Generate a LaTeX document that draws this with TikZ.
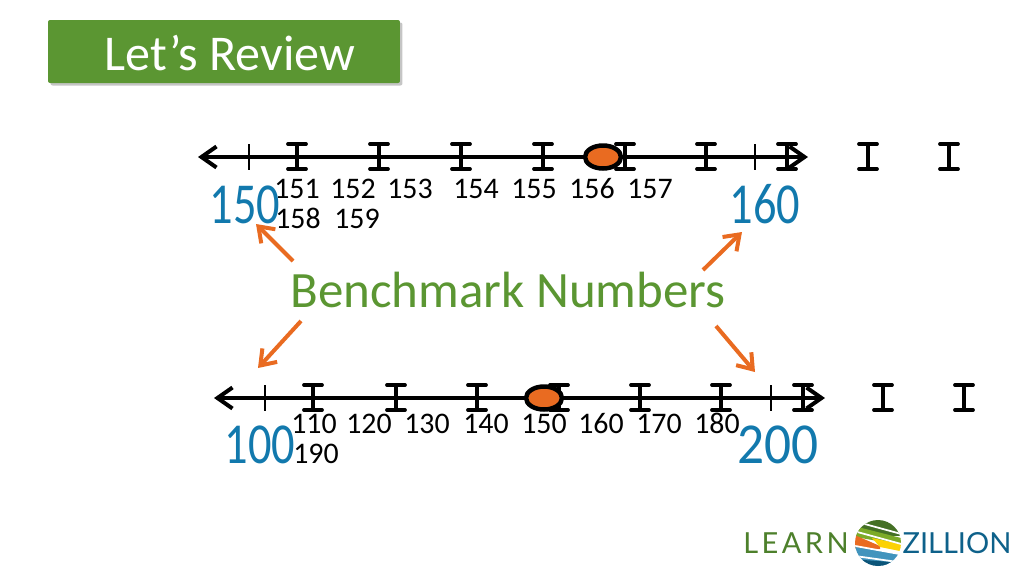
\documentclass[tikz,border=0pt]{standalone}
\usepackage{fontspec}
\setmainfont{Carlito}
\newfontfamily\logofont{Lato}
\newfontfamily\logowide[LetterSpace=12]{Lato}
\usetikzlibrary{arrows.meta,shadows,shapes.geometric}
\definecolor{boxgreen}{HTML}{5B9632}
\definecolor{markblue}{HTML}{1279AD}
\definecolor{markorange}{HTML}{E96B21}
\tikzset{
  numline/.style={line width=0.08cm,{Straight Barb[length=0.3cm,width=0.42cm]}-{Straight Barb[length=0.3cm,width=0.42cm]}},
  ibeam/.style={line width=0.075cm,line cap=round},
  thintick/.style={line width=0.055cm},
  dotmark/.style={draw=black,line width=0.09cm,fill=markorange,ellipse,minimum width=0.72cm,minimum height=0.46cm,inner sep=0},
  numlabel/.style={font=\fontsize{17}{17}\selectfont,inner sep=0,anchor=base},
  benchlabel/.style={font=\fontsize{33}{33}\selectfont,text=markblue,inner sep=0,anchor=base,xscale=0.8,transform shape},
  callout/.style={draw=markorange,line width=0.08cm,-{Straight Barb[length=0.28cm,width=0.4cm]}},
  logotext/.style={font=\logofont\fontsize{16.5}{16.5}\selectfont,inner sep=0,anchor=base}
}
\begin{document}
\begin{tikzpicture}[x=0.02cm,y=-0.02cm]
  \useasboundingbox (0,0) rectangle (1024,576);
  % title
  \node (titlebox) [fill=boxgreen,rounded corners=0.04cm,minimum width=7.04cm,minimum height=1.26cm,
    drop shadow={shadow xshift=0.05cm,shadow yshift=-0.05cm,fill=black!45},inner sep=0] at (224,51.5) {};
  \node (title) [text=white,font=\fontsize{28.5}{28.5}\selectfont,inner sep=0] at (230,53) {Let's Review};

  % upper line
  \draw[numline] (198,157) -- (808,157);
  \foreach \x in {297,379,461,543,625,706,787,868,949}{
    \draw[ibeam] (\x,144) -- (\x,169);
    \draw[ibeam] (\x-9,144) -- (\x+9,144);
    \draw[ibeam] (\x-9,169) -- (\x+9,169);
  }
  \foreach \x in {249,755}{
    \draw[thintick] (\x,144) -- (\x,170);
  }
  \node (dotup) [dotmark] at (603,157) {};
  \foreach \x/\t in {297/151,353/152,410/153,476/154,534/155,592/156,650/157}{
    \node (up\t) [numlabel] at (\x,198) {\t};
  }
  \node (up158) [numlabel] at (298,228) {158};
  \node (up159) [numlabel] at (357,228) {159};
  \node (b150) [benchlabel] at (245,223) {150};
  \node (b160) [benchlabel] at (765,223) {160};

  % lower line
  \draw[numline] (214,398) -- (825,398);
  \foreach \x in {313,396,477,559,640,721,803,883,964}{
    \draw[ibeam] (\x,385) -- (\x,410);
    \draw[ibeam] (\x-9,385) -- (\x+9,385);
    \draw[ibeam] (\x-9,410) -- (\x+9,410);
  }
  \foreach \x in {265,771}{
    \draw[thintick] (\x,385) -- (\x,411);
  }
  \node (dotlow) [dotmark] at (544,398) {};
  \foreach \x/\t in {314/110,369/120,427/130,486/140,544/150,601/160,659/170,717/180}{
    \node (low\t) [numlabel] at (\x,433) {\t};
  }
  \node (low190) [numlabel] at (316,463) {190};
  \node (b100) [benchlabel] at (260,463) {100};
  \node (b200) [benchlabel,xscale=1.15] at (778,463) {200};

  % benchmark callouts
  \node (bench) [text=boxgreen,font=\fontsize{29}{29}\selectfont,inner sep=0] at (508,290) {Benchmark Numbers};
  \coordinate (a1) at (293,261);
  \coordinate (a2) at (256,224);
  \coordinate (b1) at (703,270);
  \coordinate (b2) at (742,232);
  \coordinate (c1) at (301,321);
  \coordinate (c2) at (258,368);
  \coordinate (d1) at (716,326);
  \coordinate (d2) at (755,372);
  \draw[callout] (a1) -- (a2);
  \draw[callout] (b1) -- (b2);
  \draw[callout] (c1) -- (c2);
  \draw[callout] (d1) -- (d2);

  % logo
  \node (learn) [logotext,font=\logowide\fontsize{16.5}{16.5}\selectfont,text=boxgreen!85!black] at (796,553) {LEARN};
  \node (zillion) [logotext,text=markblue!80!black] at (957,553) {ZILLION};
  \begin{scope}
    \clip (878,543) circle (23);
    \fill[boxgreen!75!black] (850,515) rectangle (905,536);
    \fill[boxgreen!80!yellow] (850,525) -- (905,539) -- (905,546) -- (850,536) -- cycle;
    \fill[markorange] (850,533) -- (880,546) -- (880,549) -- (850,549) -- cycle;
    \fill[yellow!70!orange] (872,538) -- (905,545) -- (905,552) -- (880,547) -- cycle;
    \fill[markblue!80] (850,546) -- (905,555) -- (905,570) -- (850,558) -- cycle;
    \fill[markblue!70!black] (850,559) -- (905,563) -- (905,570) -- (850,570) -- cycle;
    \draw[white,line width=0.035cm] (850,520) -- (905,535);
    \draw[white,line width=0.035cm] (850,530) -- (905,545);
    \draw[white,line width=0.035cm] (850,545) -- (905,555);
    \draw[white,line width=0.035cm] (855,556) -- (905,563);
  \end{scope}
\end{tikzpicture}
\end{document}
